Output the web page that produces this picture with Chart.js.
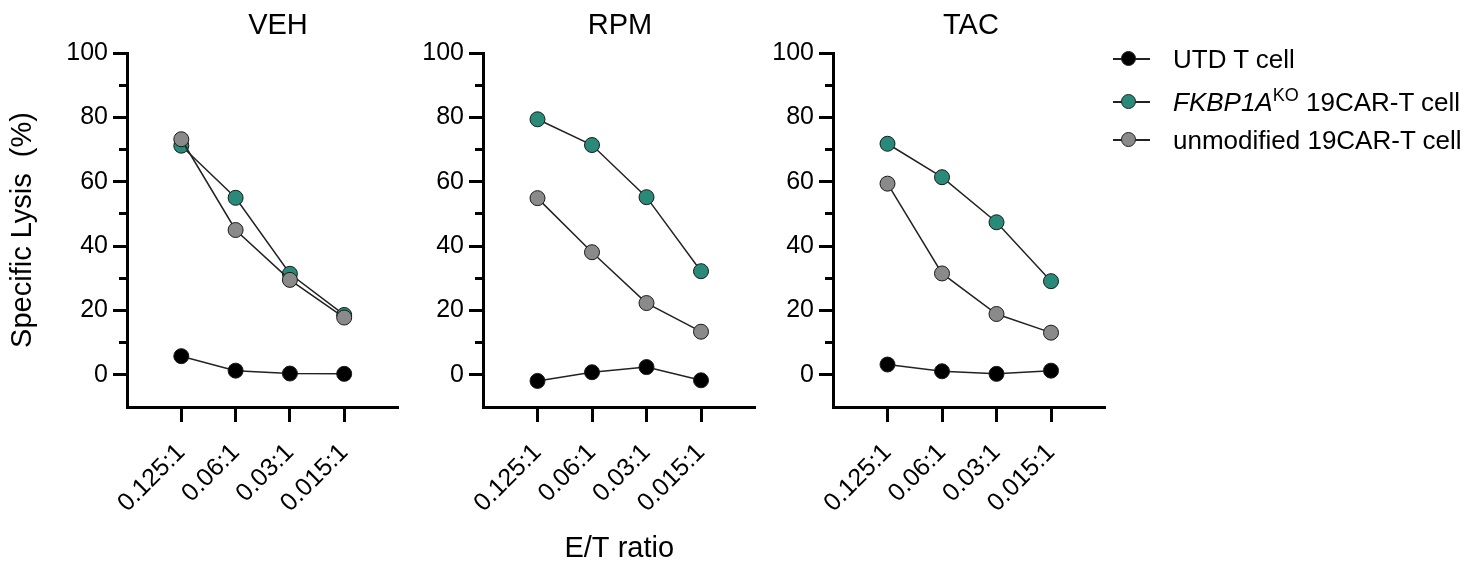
<!DOCTYPE html>
<html>
<head>
<meta charset="utf-8">
<script src="https://cdn.jsdelivr.net/npm/chart.js@4.4.0/dist/chart.umd.min.js"></script>
<style>
  html, body { margin: 0; padding: 0; background: #fff; }
  body { width: 1483px; height: 563px; position: relative; overflow: hidden;
         font-family: "Liberation Sans", Arial, sans-serif; color: #000; }
  canvas { position: absolute; top: 0; }
  .ptitle { position: absolute; top: 10px; width: 200px; text-align: center;
            font-size: 29px; line-height: 29px; }
  .lg { position: absolute; left: 1113px; height: 26px; font-size: 26px; line-height: 26px; white-space: nowrap; }
  .lg .ln { position: absolute; left: 0; top: 12px; width: 37px; height: 1.5px; background: #222; }
  .lg .dot { position: absolute; left: 8px; top: 5px; width: 15px; height: 15px; border-radius: 50%;
             box-sizing: border-box; border: 1px solid #222; }
  .lg .tx { position: absolute; left: 60px; top: 0; }
  .lg sup { font-size: 18px; position: relative; top: -3px; vertical-align: top; line-height: 18px; }
</style>
</head>
<body>
<canvas id="c1" width="407" height="563" style="left:0px"></canvas>
<canvas id="c2" width="408" height="563" style="left:356px"></canvas>
<canvas id="c3" width="408" height="563" style="left:706px"></canvas>

<div class="ptitle" style="left:178px">VEH</div>
<div class="ptitle" style="left:520px">RPM</div>
<div class="ptitle" style="left:871px">TAC</div>

<div class="lg" style="top:46px"><div class="ln"></div><div class="dot" style="background:#000"></div><div class="tx">UTD T cell</div></div>
<div class="lg" style="top:89px"><div class="ln"></div><div class="dot" style="background:#2a8a7a"></div><div class="tx"><i>FKBP1A</i><sup>KO</sup> 19CAR-T cell</div></div>
<div class="lg" style="top:127px"><div class="ln"></div><div class="dot" style="background:#8a8a8a"></div><div class="tx">unmodified 19CAR-T cell</div></div>

<script>
const categories = ['0.125:1', '0.06:1', '0.03:1', '0.015:1'];
const seriesNames = ['UTD T cell', 'FKBP1A KO 19CAR-T cell', 'unmodified 19CAR-T cell'];

const vehUTD   = [5.8, 1.3, 0.4, 0.3];
const vehKO    = [71.2, 55.0, 31.4, 18.6];
const vehUnmod = [73.2, 45.0, 29.5, 17.8];

const rpmUTD   = [-1.9, 0.8, 2.4, -1.7];
const rpmKO    = [79.4, 71.4, 55.2, 32.2];
const rpmUnmod = [54.9, 38.1, 22.3, 13.4];

const tacUTD   = [3.2, 1.1, 0.3, 1.3];
const tacKO    = [71.8, 61.4, 47.4, 29.1];
const tacUnmod = [59.4, 31.5, 18.9, 13.1];

const yMin = -10, yMax = 100, yStep = 10, yLabelStep = 20;

const FONT = '"Liberation Sans", Arial, sans-serif';
const colUTD = '#000000', colKO = '#2a8a7a', colUnmod = '#8a8a8a';

function ds(label, values, color) {
  return {
    label: label,
    data: values.map((v, i) => ({ x: i, y: v })),
    borderColor: '#222',
    borderWidth: 1.5,
    pointRadius: 7.5,
    pointHoverRadius: 7.5,
    pointBackgroundColor: color,
    pointBorderColor: '#1a1a1a',
    pointBorderWidth: 1,
    tension: 0,
    clip: false
  };
}

function isMinor(c) { return c.tick && Math.round(c.tick.value) % yLabelStep !== 0; }

function makeChart(id, utd, ko, unmod, opts) {
  const ctx = document.getElementById(id);
  return new Chart(ctx, {
    type: 'line',
    data: {
      datasets: [
        ds(seriesNames[0], utd, colUTD),
        ds(seriesNames[2], unmod, colUnmod),
        ds(seriesNames[1], ko, colKO)
      ]
    },
    options: {
      responsive: false,
      animation: false,
      devicePixelRatio: 1,
      layout: { padding: { top: 53, bottom: 0, left: 0, right: opts.padR } },
      plugins: { legend: { display: false }, tooltip: { enabled: false }, title: { display: false } },
      scales: {
        x: {
          type: 'linear',
          min: -1, max: 4,
          afterBuildTicks: (s) => { s.ticks = categories.map((c, i) => ({ value: i })); },
          afterFit: (s) => { s.height = 156; },
          border: { display: true, color: '#000', width: 3 },
          grid: { drawOnChartArea: false, drawTicks: true, tickLength: 15, tickWidth: 3, tickColor: '#000' },
          ticks: {
            autoSkip: false, maxRotation: 45, minRotation: 45, padding: 16,
            color: '#000', font: { family: FONT, size: 25 },
            callback: (v) => categories[Math.round(v)]
          },
          title: {
            display: opts.xTitle, text: 'E/T ratio', color: '#000',
            font: { family: FONT, size: 29, lineHeight: 1 }, padding: { top: 0, bottom: 0 }
          }
        },
        y: {
          min: yMin, max: yMax,
          afterFit: (s) => { s.width = 127; },
          border: { display: true, color: '#000', width: 3 },
          grid: {
            drawOnChartArea: false, drawTicks: true, tickLength: 14, tickWidth: 3,
            tickColor: (c) => (c.tick && c.tick.value === yMin) ? 'rgba(0,0,0,0)' : '#000',
            tickBorderDash: (c) => isMinor(c) ? [8, 6] : [],
            tickBorderDashOffset: (c) => isMinor(c) ? 8 : 0
          },
          ticks: {
            stepSize: yStep, autoSkip: false, padding: 5, color: '#000', font: { family: FONT, size: 25 },
            callback: (v) => (Math.round(v) % yLabelStep === 0 && v >= 0) ? String(v) : ''
          },
          title: {
            display: opts.yTitle, text: 'Specific Lysis  (%)', color: '#000',
            font: { family: FONT, size: 29, lineHeight: 1 }, padding: { top: 8, bottom: 0 }
          }
        }
      }
    }
  });
}

makeChart('c1', vehUTD, vehKO, vehUnmod, { padR: 6, yTitle: true, xTitle: false });
makeChart('c2', rpmUTD, rpmKO, rpmUnmod, { padR: 6, yTitle: false, xTitle: true });
makeChart('c3', tacUTD, tacKO, tacUnmod, { padR: 7, yTitle: false, xTitle: false });
</script>
</body>
</html>
